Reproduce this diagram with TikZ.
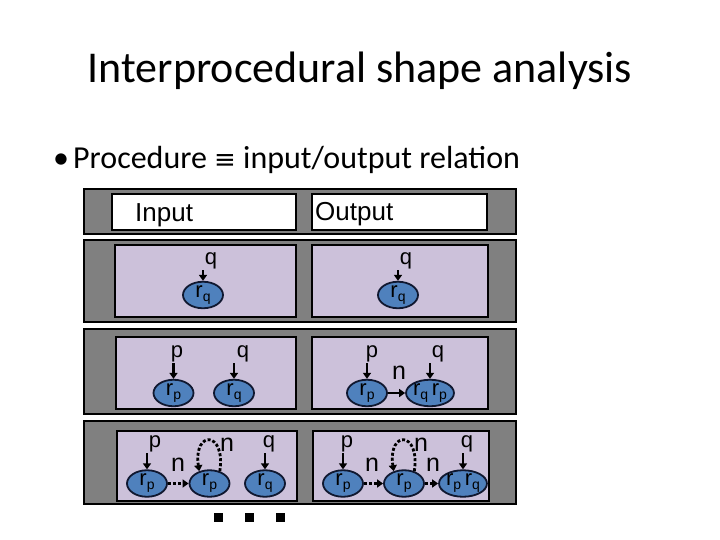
\documentclass[tikz,border=0pt]{standalone}
\usepackage{fontspec}
\setmainfont{Carlito}
\newfontfamily\arialf{Liberation Sans}
\newfontfamily\dejavu{DejaVu Sans}
\usetikzlibrary{shapes.geometric,arrows.meta}
\definecolor{bandgray}{RGB}{128,128,128}
\definecolor{lav}{RGB}{204,193,218}
\definecolor{nodeblue}{RGB}{79,129,189}
\definecolor{nodeedge}{RGB}{16,24,48}
\newcommand{\rlab}[1]{r\raisebox{-4pt}{\fontsize{14}{14}\selectfont #1}}
\newcommand{\rrlab}[2]{r\raisebox{-4pt}{\fontsize{14}{14}\selectfont #1}\,r\raisebox{-4pt}{\fontsize{14}{14}\selectfont #2}}
\begin{document}
\begin{tikzpicture}[x=1pt,y=-1pt,
  band/.style={draw=black,line width=1.2pt,fill=bandgray},
  panel/.style={draw=black,line width=1.2pt,fill=lav},
  wbox/.style={draw=black,line width=1.2pt,fill=white},
  heap/.style={ellipse,draw=nodeedge,line width=1.8pt,fill=nodeblue,minimum width=40pt,minimum height=24pt,inner sep=0pt,font=\arialf\fontsize{22}{22}\selectfont},
  var/.style={inner sep=0pt,font=\arialf\fontsize{22}{22}\selectfont},
  sel/.style={inner sep=0pt,font=\arialf\fontsize{25}{25}\selectfont},
  hdr/.style={inner sep=0pt,anchor=base west,font=\arialf\fontsize{26}{26}\selectfont},
  ptr/.style={-{Triangle[length=6pt,width=8pt]},line width=2.5pt},
  sumedge/.style={-{Triangle[length=6pt,width=8pt]},line width=2.8pt,dash pattern=on 3pt off 2pt}]
\useasboundingbox (0,0) rectangle (720,540);
% title and bullet
\node[inner sep=0pt,anchor=base,font=\fontsize{44}{44}\selectfont] (title) at (360,83) {Interprocedural shape analysis};
\node[inner sep=0pt,anchor=base,font=\fontsize{32}{32}\selectfont] (bul) at (61,169) {\textbullet};
\node[inner sep=0pt,anchor=base west,font=\fontsize{32}{32}\selectfont] (proc) at (73,169) {Procedure {\dejavu\fontsize{26}{26}\selectfont ≡} input/output relation};
% bands
\path[band] (84,189) rectangle (516,234);
\path[band] (84,240) rectangle (516,322);
\path[band] (84,329) rectangle (516,414);
\path[band] (84,421) rectangle (516,504);
\path[wbox] (112,194) rectangle (296,230);
\path[wbox] (312,194) rectangle (487,230);
\node[hdr] (inp) at (135,222) {Input};
\node[hdr] (outp) at (315,221) {Output};
\path[panel] (115,245) rectangle (296,317);
\path[panel] (312,245) rectangle (488,317);
\path[panel] (116,337) rectangle (296,409);
\path[panel] (312,337) rectangle (488,409);
\path[panel] (117,431) rectangle (297,501);
\path[panel] (313,431) rectangle (489,501);
% row 1
\node[heap] (a1) at (203,295) {\rlab{q}};
\node[var] (a1q) at (211,261) {q};
\draw[ptr] ([yshift=-1pt]a1.north |- a1q.south) -- (a1.north);
\node[heap] (b1) at (398,295) {\rlab{q}};
\node[var] (b1q) at (406,261) {q};
\draw[ptr] ([yshift=-1pt]b1.north |- b1q.south) -- (b1.north);
% row 2 left
\node[heap] (a2p) at (173.5,393) {\rlab{p}};
\node[var] (a2pl) at (177,354) {p};
\draw[ptr] ([yshift=-1pt]a2p.north |- a2pl.south) -- (a2p.north);
\node[heap] (a2q) at (234,393) {\rlab{q}};
\node[var] (a2ql) at (243,354) {q};
\draw[ptr] ([yshift=-1pt]a2q.north |- a2ql.south) -- (a2q.north);
% row 2 right
\node[heap] (b2p) at (367,393) {\rlab{p}};
\node[var] (b2pl) at (372,354) {p};
\draw[ptr] ([yshift=-1pt]b2p.north |- b2pl.south) -- (b2p.north);
\node[heap] (b2qp) at (430,393) {\rrlab{q}{p}};
\node[var] (b2ql) at (438,354) {q};
\draw[ptr] ([yshift=-1pt]b2qp.north |- b2ql.south) -- (b2qp.north);
\node[sel] (b2n) at (399,373) {n};
\draw[ptr] (b2p.east) -- (b2qp.west);
% row 3 left
\node[heap] (a3p1) at (147,483.5) {\rlab{p}};
\node[var] (a3pl) at (155,444) {p};
\draw[ptr] ([yshift=-1pt]a3p1.north |- a3pl.south) -- (a3p1.north);
\node[heap] (a3p2) at (209.5,483.5) {\rlab{p}};
\node[sel] (a3n1) at (178,465) {n};
\draw[sumedge] (a3p1.east) -- (a3p2.west);
\draw[sumedge] (a3p2.50) .. controls +(6pt,41pt) and +(-6pt,41pt) .. (a3p2.130);
\node[sel] (a3n2) at (227,445) {n};
\node[heap] (a3q) at (265,483.5) {\rlab{q}};
\node[var] (a3ql) at (269,444) {q};
\draw[ptr] ([yshift=-1pt]a3q.north |- a3ql.south) -- (a3q.north);
% row 3 right
\node[heap] (b3p1) at (343,483.5) {\rlab{p}};
\node[var] (b3pl) at (347,444) {p};
\draw[ptr] ([yshift=-1pt]b3p1.north |- b3pl.south) -- (b3p1.north);
\node[heap] (b3p2) at (404,483.5) {\rlab{p}};
\node[sel] (b3n1) at (372,465) {n};
\draw[sumedge] (b3p1.east) -- (b3p2.west);
\draw[sumedge] (b3p2.50) .. controls +(6pt,41pt) and +(-6pt,41pt) .. (b3p2.130);
\node[sel] (b3n2) at (421,445) {n};
\node[heap] (b3pq) at (463,483.5) {\rrlab{p}{q}};
\node[var] (b3ql) at (467,444) {q};
\draw[ptr] ([yshift=-1pt]b3pq.north |- b3ql.south) -- (b3pq.north);
\node[sel] (b3n3) at (433,465) {n};
\draw[sumedge] (b3p2.east) -- (b3pq.west);
% ellipsis squares
\fill (213.5,512.5) rectangle (222.5,521.5);
\fill (244.5,512.5) rectangle (253.5,521.5);
\fill (275.5,512.5) rectangle (284.5,521.5);
\end{tikzpicture}
\end{document}
